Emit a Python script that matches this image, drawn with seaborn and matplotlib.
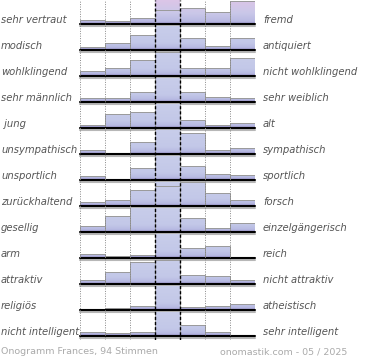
import numpy as np
import matplotlib
matplotlib.use("Agg")
import matplotlib.pyplot as plt
import matplotlib.patheffects as pe
from matplotlib.colors import LinearSegmentedColormap
import seaborn as sns

# Onogramm: Anteil der Stimmen je Stufe (in %), Balken oben bei 30 % abgeschnitten
links = ["sehr vertraut", "modisch", "wohlklingend", "sehr männlich", " jung",
         "unsympathisch", "unsportlich", "zurückhaltend", "gesellig", "arm",
         "attraktiv", "religiös", "nicht intelligent"]
rechts = ["fremd", "antiquiert", "nicht wohlklingend", "sehr weiblich", "alt",
          "sympathisch", "sportlich", "forsch", "einzelgängerisch", "reich",
          "nicht attraktiv", "atheistisch", "sehr intelligent"]
stufen = ["1", "2", "3", "4", "5", "6", "7"]
werte = [
    [6, 4, 8, 18, 21, 15, 29],
    [4, 9, 19, 32, 15, 6, 15],
    [7, 11, 21, 31, 11, 10, 23],
    [5, 6, 13, 50, 13, 7, 6],
    [4, 18, 21, 37, 10, 4, 6],
    [6, 2, 15, 36, 27, 6, 8],
    [6, 2, 16, 43, 18, 8, 7],
    [5, 8, 20, 26, 31, 17, 8],
    [8, 21, 32, 33, 18, 6, 12],
    [5, 2.5, 4.5, 40, 13, 15, 1],
    [6, 15, 27.5, 31, 11.5, 10.5, 6],
    [0, 3, 6, 60, 4.5, 6, 7.5],
    [6, 4, 5, 55, 14.5, 5, 0.5],
]
ymax = 30
fuss_links = "Onogramm Frances, 94 Stimmen"
fuss_rechts = "onomastik.com - 05 / 2025"

sns.set_theme(style="white")
plt.rcParams["font.family"] = ["DejaVu Sans"]

W, H = 370, 360
fig = plt.figure(figsize=(W / 100, H / 100), dpi=100)
fig.patch.set_facecolor("white")

cmap_blau = LinearSegmentedColormap.from_list(
    "blau", [(0, "#9890c8"), (0.1, "#b7bae2"), (0.3, "#c3c8e8"), (1, "#c8cdea")])
cmap_rosa = LinearSegmentedColormap.from_list(
    "rosa", [(0, "#9890c8"), (0.1, "#b9b9e2"), (0.45, "#cac8e9"), (1, "#dcc5e7")])
verlauf = np.linspace(0, 1, 100).reshape(-1, 1)

x0, breite = 80, 175
for i, vals in enumerate(werte):
    basis = 24.3 + 26 * i
    ax = fig.add_axes([x0 / W, 1 - basis / H, breite / W, 24 / H])
    ax.set_facecolor("none")
    ax.axvspan(2.5, 3.5, color="#ececec", zorder=0, lw=0)
    sns.barplot(x=stufen, y=vals, ax=ax, width=1, color="#c5cbe9",
                edgecolor="#9a9a9a", linewidth=0.7, zorder=2)
    cmap = cmap_rosa if i == 0 else cmap_blau
    for p in list(ax.patches):
        im = ax.imshow(verlauf, cmap=cmap, origin="lower", aspect="auto",
                       extent=[-0.5, 6.5, 0, ymax], zorder=2.5)
        im.set_clip_path(p)
        p.set_facecolor("none")
        p.set_zorder(3)
    ax.axhline(0, color="black", lw=1.5, clip_on=False, zorder=4,
               path_effects=[pe.SimpleLineShadow(offset=(0, -1.2), shadow_color="#888", alpha=0.6),
                             pe.Normal()])
    ax.set_xlim(-0.5, 6.5)
    ax.set_ylim(0, ymax)
    ax.set_axis_off()
    y_txt = 1 - (basis - 4.5) / H
    fig.text(1 / W, y_txt, links[i], ha="left", va="center", fontsize=7.2,
             style="italic", color="#555555")
    fig.text(263 / W, y_txt, rechts[i], ha="left", va="center", fontsize=7.2,
             style="italic", color="#555555")

# Gitterlinien über die ganze Höhe
gax = fig.add_axes([x0 / W, 20 / H, breite / W, 340 / H], zorder=10)
gax.set_facecolor("none")
gax.vlines([0, 1, 2, 5, 6, 7], 0, 1, colors="#888888", linestyles=(0, (1, 1.5)), lw=0.7)
gax.vlines([3, 4], 0, 1, colors="black", linestyles=(0, (2.2, 1.5)), lw=1.0)
gax.set_xlim(0, 7)
gax.set_ylim(0, 1)
gax.set_axis_off()

fig.text(1 / W, 1 - 352 / H, fuss_links, ha="left", va="center", fontsize=6.8, color="#aaaaaa")
fig.text(347 / W, 1 - 352 / H, fuss_rechts, ha="right", va="center", fontsize=6.8, color="#aaaaaa")

fig.savefig("out.png", dpi=100)
